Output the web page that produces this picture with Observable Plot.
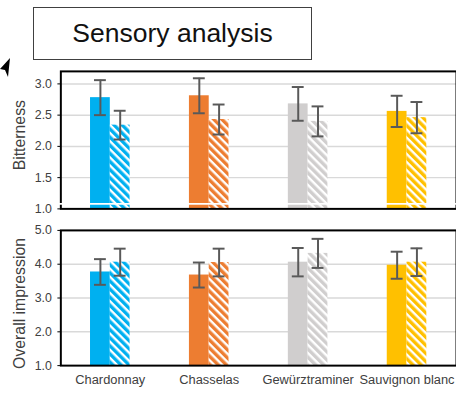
<!DOCTYPE html>
<html><head><meta charset="utf-8">
<script src="https://cdn.jsdelivr.net/npm/d3@7"></script>
<script src="https://cdn.jsdelivr.net/npm/@observablehq/plot@0.6"></script>
<style>
html,body{margin:0;padding:0;background:#fff;}
body{width:456px;height:393px;overflow:hidden;position:relative;font-family:"Liberation Sans",Arial,sans-serif;}
#title{position:absolute;left:33px;top:7px;width:279px;height:53px;box-sizing:border-box;border:1.5px solid #404040;display:flex;align-items:center;justify-content:center;font-size:26.5px;color:#111;background:#fff;}
#arrow{position:absolute;left:0;top:56px;}
#top{position:absolute;left:0;top:62px;}
#bottom{position:absolute;left:0;top:222px;}
</style>
</head><body>
<svg width="0" height="0" style="position:absolute"><defs id="defs"></defs></svg>
<div id="title">Sensory analysis</div>
<svg id="arrow" width="14" height="24"><polygon points="10,2 0,13 5,14 8,21" fill="#000"/></svg>
<div id="top"></div>
<div id="bottom"></div>
<script>
// ---- data ----
const categories = ["Chardonnay", "Chasselas", "Gewürztraminer", "Sauvignon blanc"];
const colors = ["#00b0f0", "#ed7d31", "#d0cece", "#ffc000"];

const bitternessSolid = [2.78, 2.81, 2.68, 2.56];
const bitternessSolidErr = [0.28, 0.28, 0.27, 0.25];
const bitternessHatched = [2.34, 2.43, 2.40, 2.46];
const bitternessHatchedErr = [0.23, 0.24, 0.24, 0.25];

const overallSolid = [3.77, 3.68, 4.06, 3.97];
const overallSolidErr = [0.38, 0.37, 0.42, 0.40];
const overallHatched = [4.06, 4.05, 4.32, 4.06];
const overallHatchedErr = [0.40, 0.41, 0.43, 0.41];

const bitternessTicks = [1.0, 1.5, 2.0, 2.5, 3.0];
const overallTicks = [1.0, 2.0, 3.0, 4.0, 5.0];

// ---- hatch patterns ----
const defs = document.getElementById("defs");
const NS = "http://www.w3.org/2000/svg";
colors.forEach((c, i) => {
  const p = document.createElementNS(NS, "pattern");
  p.setAttribute("id", "hatch" + i);
  p.setAttribute("patternUnits", "userSpaceOnUse");
  p.setAttribute("width", 5.8);
  p.setAttribute("height", 10);
  p.setAttribute("patternTransform", "rotate(-45)");
  const bg = document.createElementNS(NS, "rect");
  bg.setAttribute("width", 5.8); bg.setAttribute("height", 10); bg.setAttribute("fill", "#fff");
  const fg = document.createElementNS(NS, "rect");
  fg.setAttribute("width", 3.4); fg.setAttribute("height", 10); fg.setAttribute("fill", c);
  p.appendChild(bg); p.appendChild(fg);
  defs.appendChild(p);
});

function rows(vals, errs) {
  return categories.map((cat, i) => ({cat, i, v: vals[i], e: errs[i]}));
}

function panel({solid, solidErr, hatched, hatchedErr, domain, ticks, label, height, marginTop, marginBottom, showX, labelDy, breakAt}) {
  const S = rows(solid, solidErr);
  const H = rows(hatched, hatchedErr);
  const ebStyle = {stroke: "#595959", strokeWidth: 2};
  const marks = [
    Plot.gridY(ticks.slice(1), {stroke: "#d9d9d9", strokeOpacity: 1, strokeWidth: 1.5}),
    Plot.barY(S, {x: "cat", y1: domain[0], y2: "v", fill: "cat", insetLeft: 0, insetRight: 20}),
    ...categories.map((c, i) => Plot.barY(H.filter(d => d.i === i), {x: "cat", y1: domain[0], y2: "v", fill: `url(#hatch${i})`, insetLeft: 20, insetRight: 0})),
    Plot.ruleX(S, {x: "cat", y1: d => d.v - d.e, y2: d => d.v + d.e, dx: -10, ...ebStyle}),
    Plot.tickY(S, {x: "cat", y: d => d.v + d.e, insetLeft: 4, insetRight: 24, ...ebStyle}),
    Plot.tickY(S, {x: "cat", y: d => d.v - d.e, insetLeft: 4, insetRight: 24, ...ebStyle}),
    Plot.ruleX(H, {x: "cat", y1: d => d.v - d.e, y2: d => d.v + d.e, dx: 10, ...ebStyle}),
    Plot.tickY(H, {x: "cat", y: d => d.v + d.e, insetLeft: 24, insetRight: 4, ...ebStyle}),
    Plot.tickY(H, {x: "cat", y: d => d.v - d.e, insetLeft: 24, insetRight: 4, ...ebStyle}),
    Plot.frame({stroke: "#000", strokeWidth: 2}),
    Plot.axisY(ticks, {tickSize: 3, tickPadding: 6, tickFormat: d3.format(".1f"), fontSize: 12.5, stroke: "#000", fill: "#404040", label: null}),
    Plot.text([label], {text: d => d, frameAnchor: "left", textAnchor: "middle", lineAnchor: "middle", dx: -41, dy: labelDy, rotate: -90, fontSize: 16, fill: "#404040"})
  ];
  if (showX) marks.push(Plot.axisX({tickSize: 0, tickPadding: 9, fontSize: 13, fill: "#404040", label: null}));
  if (breakAt != null) marks.push(Plot.ruleY([breakAt], {stroke: "#fff", strokeWidth: 2, insetLeft: -5}));
  return Plot.plot({
    width: 461,
    height,
    marginLeft: 61,
    marginRight: 0,
    marginTop,
    marginBottom,
    style: {fontFamily: '"Liberation Sans", Arial, sans-serif', fontSize: "13px", background: "transparent", overflow: "visible"},
    x: {type: "band", domain: categories, paddingInner: 0.6, paddingOuter: 0.3, axis: null},
    y: {domain, axis: null},
    color: {domain: categories, range: colors},
    marks
  });
}

document.getElementById("top").appendChild(panel({
  solid: bitternessSolid, solidErr: bitternessSolidErr,
  hatched: bitternessHatched, hatchedErr: bitternessHatchedErr,
  domain: [1, 3.2], ticks: bitternessTicks, label: "Bitterness",
  height: 153, marginTop: 9, marginBottom: 5, showX: false, labelDy: -5, breakAt: 1.08
}));
document.getElementById("bottom").appendChild(panel({
  solid: overallSolid, solidErr: overallSolidErr,
  hatched: overallHatched, hatchedErr: overallHatchedErr,
  domain: [1, 5], ticks: overallTicks, label: "Overall impression",
  height: 171, marginTop: 8, marginBottom: 26.3, showX: true, labelDy: 5.5, breakAt: null
}));
</script>
</body></html>
